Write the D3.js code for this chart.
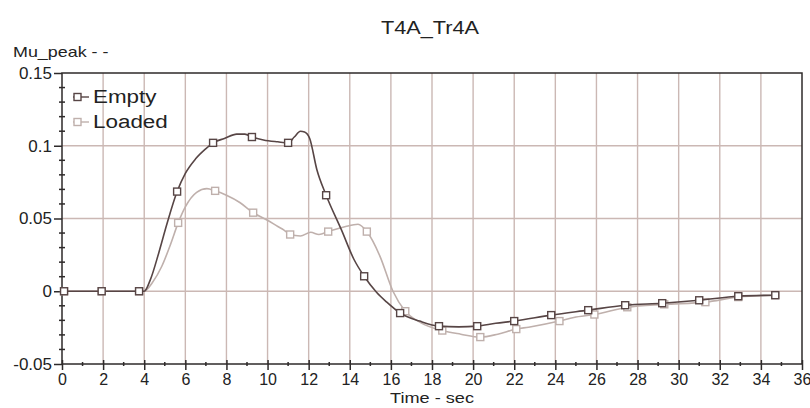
<!DOCTYPE html>
<html>
<head>
<meta charset="utf-8">
<script src="https://cdn.jsdelivr.net/npm/d3@7"></script>
<style>
  html, body { margin: 0; padding: 0; background: #fff; }
  svg { display: block; font-family: "Liberation Sans", Arial, sans-serif; }
</style>
</head>
<body>
<svg id="chart" width="810" height="408"></svg>
<script>
// Mu_peak over time for the empty and loaded runs of test T4A_Tr4A
const chartTitle = "T4A_Tr4A";
const yAxisTitle = "Mu_peak - -";
const xAxisTitle = "Time - sec";
const seriesNames = ["Empty", "Loaded"];

const xTicks = [0, 2, 4, 6, 8, 10, 12, 14, 16, 18, 20, 22, 24, 26, 28, 30, 32, 34, 36];
const yTicks = [-0.05, 0, 0.05, 0.1, 0.15];
const yTickLabels = ["-0.05", "0", "0.05", "0.1", "0.15"];

// Empty run
const emptyTime = [0, 0.1, 1.93, 3.75, 4.0, 4.3, 4.7, 5.1, 5.6, 6.0, 6.5, 7.0, 7.35, 7.9, 8.5, 8.9,
  9.24, 9.8, 10.5, 11.0, 11.3, 11.6, 11.8, 12.05, 12.4, 12.85, 13.6, 14.2, 14.7, 15.3, 15.8,
  16.45, 17.4, 18.34, 19.3, 20.2, 21.1, 22.0, 23.8, 25.6, 27.4, 29.2, 31.0, 32.9, 34.7];
const emptyValue = [0, 0, 0, 0, 0, 0.008, 0.026, 0.046, 0.0685, 0.081, 0.091, 0.098, 0.102, 0.105, 0.108, 0.108,
  0.106, 0.104, 0.1027, 0.102, 0.106, 0.110, 0.1095, 0.105, 0.0835, 0.066, 0.042, 0.022, 0.0103, -0.0007, -0.0075,
  -0.015, -0.0205, -0.024, -0.0245, -0.024, -0.022, -0.0205, -0.0164, -0.013, -0.0096, -0.0082, -0.0062, -0.0034, -0.0027];
const emptyMarkers = [1, 2, 3, 8, 12, 16, 19, 25, 28, 31, 33, 35, 37, 38, 39, 40, 41, 42, 43, 44];

// Loaded run
const loadedTime = [0, 0.1, 1.93, 3.75, 4.0, 4.4, 4.85, 5.3, 5.65, 6.0, 6.55, 7.05, 7.45, 8.0, 8.65, 9.3,
  9.97, 10.5, 10.8, 11.1, 11.6, 12.1, 12.5, 12.95, 13.4, 13.8, 14.4, 14.83, 15.47, 16.1, 16.7,
  17.4, 18.5, 19.4, 20.35, 21.2, 22.1, 22.7, 24.2, 24.9, 25.9, 27.5, 29.3, 31.3, 32.9, 34.7];
const loadedValue = [0, 0, 0, 0, 0, 0.006, 0.017, 0.033, 0.047, 0.058, 0.068, 0.0705, 0.069, 0.066, 0.061, 0.054,
  0.049, 0.0445, 0.042, 0.039, 0.038, 0.0405, 0.039, 0.041, 0.043, 0.0445, 0.046, 0.041, 0.024, 0.0, -0.0137,
  -0.0212, -0.027, -0.0295, -0.0315, -0.0295, -0.026, -0.0247, -0.0205, -0.018, -0.016, -0.011, -0.009, -0.0075, -0.004, -0.0027];
const loadedMarkers = [1, 2, 3, 8, 12, 15, 19, 23, 27, 30, 32, 34, 36, 38, 40, 41, 42, 43, 44, 45];

const colors = { Empty: "#574545", Loaded: "#bfb0ac" };
const gridColor = "#cbb8b4";
const axisColor = "#2e2a2a";
const textColor = "#222";

const svg = d3.select("#chart");
const plot = { left: 62, right: 802, top: 73, bottom: 364 };

const x = d3.scaleLinear().domain([0, 36]).range([plot.left, plot.right]);
const y = d3.scaleLinear().domain([-0.05, 0.15]).range([plot.bottom, plot.top]);

// stretched text helper
function label(g, px, py, txt, size, sx, anchor) {
  return g.append("text")
    .attr("transform", `translate(${px},${py}) scale(${sx},1)`)
    .attr("text-anchor", anchor || "start")
    .attr("font-size", size)
    .attr("fill", textColor)
    .text(txt);
}

// grid
const grid = svg.append("g");
grid.selectAll("line.v").data(xTicks.filter(t => t > 0 && t < 36)).join("line")
  .attr("x1", d => x(d)).attr("x2", d => x(d))
  .attr("y1", plot.top).attr("y2", plot.bottom)
  .attr("stroke", gridColor).attr("stroke-width", 1.4);
grid.selectAll("line.h").data(yTicks.filter(t => t > -0.05 && t < 0.15)).join("line")
  .attr("x1", plot.left).attr("x2", plot.right)
  .attr("y1", d => y(d)).attr("y2", d => y(d))
  .attr("stroke", gridColor).attr("stroke-width", 1.4);

// frame
svg.append("rect")
  .attr("x", plot.left).attr("y", plot.top)
  .attr("width", plot.right - plot.left).attr("height", plot.bottom - plot.top)
  .attr("fill", "none").attr("stroke", axisColor).attr("stroke-width", 1.5);

// x axis
const xAxis = d3.axisBottom(x).tickValues(xTicks).tickSize(6).tickPadding(4).tickFormat(d3.format("d"));
const gx = svg.append("g").attr("transform", `translate(0,${plot.bottom})`).call(xAxis);
gx.select(".domain").remove();
gx.selectAll(".tick line").attr("y1", -4).attr("stroke", axisColor).attr("stroke-width", 1.5);
gx.selectAll(".tick text").attr("font-size", 16).attr("fill", textColor)
  .attr("font-family", "'Liberation Sans', Arial, sans-serif");
const xMinor = d3.range(1, 36, 2);
svg.append("g").selectAll("line").data(xMinor).join("line")
  .attr("x1", d => x(d)).attr("x2", d => x(d))
  .attr("y1", plot.bottom - 2).attr("y2", plot.bottom + 2)
  .attr("stroke", axisColor).attr("stroke-width", 1.5);

// y axis
const yAxis = d3.axisLeft(y).tickValues(yTicks).tickSize(8).tickPadding(2)
  .tickFormat((d, i) => yTickLabels[i]);
const gy = svg.append("g").attr("transform", `translate(${plot.left},0)`).call(yAxis);
gy.select(".domain").remove();
gy.selectAll(".tick line").attr("stroke", axisColor).attr("stroke-width", 1.5);
gy.selectAll(".tick text").attr("font-size", 17).attr("fill", textColor)
  .attr("font-family", "'Liberation Sans', Arial, sans-serif");
const yMinor = d3.range(-0.04, 0.15, 0.01).filter(v => Math.abs(Math.round(v * 100) % 5) !== 0);
svg.append("g").selectAll("line").data(yMinor).join("line")
  .attr("x1", plot.left - 3).attr("x2", plot.left + 3)
  .attr("y1", d => y(d)).attr("y2", d => y(d))
  .attr("stroke", axisColor).attr("stroke-width", 1.5);

// titles
label(svg, 430, 34, chartTitle, 17.5, 1.24, "middle");
label(svg, 13, 57, yAxisTitle, 14, 1.28, "start");
label(svg, 432, 403, xAxisTitle, 14.5, 1.25, "middle");

// series
const series = [
  { name: "Loaded", t: loadedTime, v: loadedValue, m: loadedMarkers },
  { name: "Empty", t: emptyTime, v: emptyValue, m: emptyMarkers }
];
const line = d3.line().x(d => x(d[0])).y(d => y(d[1])).curve(d3.curveMonotoneX);
const ms = 7;
series.forEach(s => {
  const pts = s.t.map((t, i) => [t, s.v[i]]);
  const g = svg.append("g");
  g.append("path").datum(pts).attr("d", line)
    .attr("fill", "none").attr("stroke", colors[s.name]).attr("stroke-width", 1.6);
  g.selectAll("rect").data(s.m.map(i => pts[i])).join("rect")
    .attr("x", d => x(d[0]) - ms / 2).attr("y", d => y(d[1]) - ms / 2)
    .attr("width", ms).attr("height", ms)
    .attr("fill", "#fff").attr("stroke", colors[s.name]).attr("stroke-width", 1.4);
});

// legend
const legend = svg.append("g");
seriesNames.forEach((name, i) => {
  const by = 103 + i * 25;
  const ly = by - 6;
  legend.append("line").attr("x1", 73).attr("x2", 89).attr("y1", ly).attr("y2", ly)
    .attr("stroke", colors[name]).attr("stroke-width", 1.4);
  legend.append("rect").attr("x", 74).attr("y", ly - 3.5).attr("width", 7).attr("height", 7)
    .attr("fill", "#fff").attr("stroke", colors[name]).attr("stroke-width", 1.4);
  label(legend, 93, by, name, 19, 1.18, "start");
});
</script>
</body>
</html>
